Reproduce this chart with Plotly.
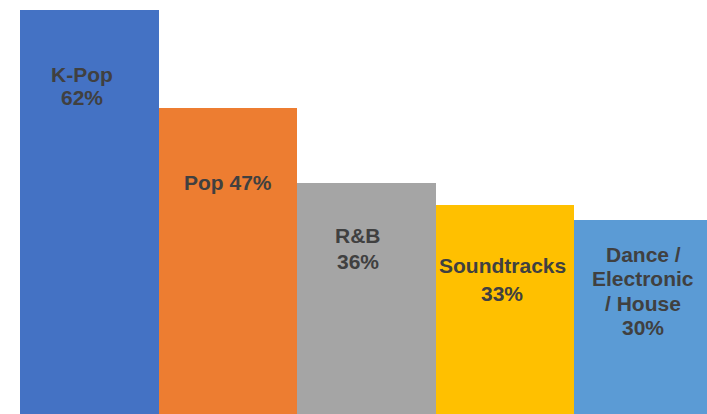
import plotly.graph_objects as go

# --- data ---
genres = ["K-Pop", "Pop", "R&B", "Soundtracks", "Dance / Electronic / House"]
shares = [62, 47, 35.5, 32.0, 29.7]          # bar heights (%)
share_labels = ["62%", "47%", "36%", "33%", "30%"]
label_lines = [
    ["K-Pop", "62%"],
    ["Pop 47%"],
    ["R&B", "36%"],
    ["Soundtracks", "33%"],
    ["Dance /", "Electronic", "/ House", "30%"],
]
colors = ["#4472C4", "#ED7D31", "#A5A5A5", "#FFC000", "#5B9BD5"]

# --- label layout (style): drop of first line below bar top, line gap, x shift (px) ---
first_drop_px = [64.5, 75, 53, 60, 34]
line_gap_px = [22.5, 0, 26, 28, 24.4]
x_shift_px = [-7.5, 0, -8.7, -2.6, 0]

W = 707
H = 414
ML = 20
bar_px = 138.55
px_per_unit = 6.516
y_max = H / px_per_unit

fig = go.Figure()
fig.add_trace(go.Bar(
    x=list(range(len(genres))),
    y=shares,
    marker=dict(color=colors, line=dict(width=0)),
    width=1.0,
    hoverinfo="skip",
    showlegend=False,
))

annotations = []
for i, lines in enumerate(label_lines):
    top = shares[i]
    for j, line in enumerate(lines):
        drop = first_drop_px[i] + j * line_gap_px[i]
        annotations.append(dict(
            x=i + x_shift_px[i] / bar_px,
            y=top - drop / px_per_unit,
            xref="x", yref="y",
            text=f"<b>{line}</b>",
            showarrow=False,
            xanchor="center", yanchor="middle",
            font=dict(family="Liberation Sans, Arial, sans-serif", size=21, color="#404040"),
        ))

fig.update_layout(
    width=W, height=H,
    margin=dict(l=ML, r=0, t=0, b=0),
    paper_bgcolor="white",
    plot_bgcolor="white",
    bargap=0,
    annotations=annotations,
    xaxis=dict(range=[-0.5, -0.5 + (W - ML) / bar_px], visible=False, fixedrange=True),
    yaxis=dict(range=[0, y_max], visible=False, fixedrange=True),
)

fig.write_html(
    "out.html",
    config={"displayModeBar": False},
    post_script="document.body.style.margin='0';document.body.style.overflow='hidden';",
)
